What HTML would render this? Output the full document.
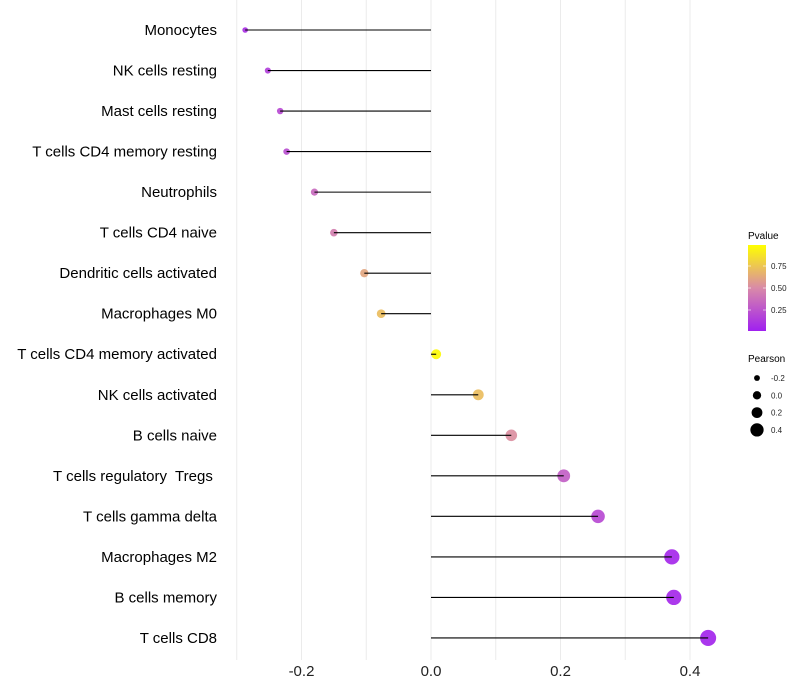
<!DOCTYPE html>
<html><head><meta charset="utf-8"><style>
body{margin:0;background:#fff;}
svg{display:block;font-family:"Liberation Sans",sans-serif;}
text{white-space:pre;}
</style></head><body>
<svg id="chart" width="800" height="700">
<defs>
<linearGradient id="pgrad" x1="0" y1="1" x2="0" y2="0">
<stop offset="0" stop-color="#A020F0"/>
<stop offset="0.5" stop-color="#D98AA8"/>
<stop offset="1" stop-color="#FFFF00"/>
</linearGradient>
</defs>
<g id="grid"></g>
<g id="marks"></g>
<g id="ylabels"></g>
<g id="xticks"></g>
<g>
<text x="748" y="239" font-size="10" fill="#000">Pvalue</text>
<rect x="748" y="245" width="18" height="86" fill="url(#pgrad)"/>
<line x1="748" y1="266" x2="751" y2="266" stroke="#fff" stroke-opacity="0.6"/><line x1="763" y1="266" x2="766" y2="266" stroke="#fff" stroke-opacity="0.6"/>
<line x1="748" y1="288" x2="751" y2="288" stroke="#fff" stroke-opacity="0.6"/><line x1="763" y1="288" x2="766" y2="288" stroke="#fff" stroke-opacity="0.6"/>
<line x1="748" y1="310" x2="751" y2="310" stroke="#fff" stroke-opacity="0.6"/><line x1="763" y1="310" x2="766" y2="310" stroke="#fff" stroke-opacity="0.6"/>
<text x="771" y="269" font-size="8" fill="#222">0.75</text>
<text x="771" y="291" font-size="8" fill="#222">0.50</text>
<text x="771" y="313" font-size="8" fill="#222">0.25</text>
</g>
<g id="sizelegend">
<text x="748" y="362" font-size="10" fill="#000">Pearson</text>
</g>
</svg>
<script>
const categories=["Monocytes","NK cells resting","Mast cells resting","T cells CD4 memory resting","Neutrophils","T cells CD4 naive","Dendritic cells activated","Macrophages M0","T cells CD4 memory activated","NK cells activated","B cells naive","T cells regulatory  Tregs ","T cells gamma delta","Macrophages M2","B cells memory","T cells CD8"];
const pearson=[-0.287,-0.252,-0.233,-0.223,-0.180,-0.150,-0.103,-0.077,0.008,0.073,0.124,0.205,0.258,0.372,0.375,0.428];
const pvalues=[0.08,0.15,0.2,0.22,0.35,0.45,0.62,0.72,0.98,0.72,0.52,0.3,0.2,0.04,0.04,0.03];
const xTicks=[-0.2,0,0.2,0.4];
const xTickLabels=["-0.2","0.0","0.2","0.4"];
const gridVals=[-0.3,-0.2,-0.1,0,0.1,0.2,0.3,0.4];
const sizeLegendVals=[-0.2,0.0,0.2,0.4];
const sizeLegendLabels=["-0.2","0.0","0.2","0.4"];

const NS="http://www.w3.org/2000/svg";
function xs(v){return 431+v*647.5;}
function ys(i){return 30+i*40.53;}
function rs(v){return Math.max(1.5,4.9+7.3*v);}
function hex(h){return [parseInt(h.slice(1,3),16),parseInt(h.slice(3,5),16),parseInt(h.slice(5,7),16)];}
const stops=[[0,hex("#A020F0")],[0.5,hex("#D98AA8")],[1,hex("#FFFF00")]];
function col(p){let a=stops[0],b=stops[1];if(p>0.5){a=stops[1];b=stops[2];}
 const t=(p-a[0])/(b[0]-a[0]);const c=a[1].map((x,k)=>Math.round(x+(b[1][k]-x)*t));return `rgb(${c.join(",")})`;}
function mk(tag,attrs,parent){const e=document.createElementNS(NS,tag);for(const k in attrs)e.setAttribute(k,attrs[k]);parent.appendChild(e);return e;}

const grid=document.getElementById('grid');
gridVals.forEach(v=>{const l=mk('line',{x1:xs(v),x2:xs(v),y1:0,y2:660,stroke:'#ebebeb','stroke-width':1},grid);

});

const marks=document.getElementById('marks');
const ylab=document.getElementById('ylabels');
categories.forEach((c,i)=>{
 const y=ys(i),v=pearson[i];
 const pt=mk('circle',{cx:xs(v),cy:y,r:rs(v),fill:col(pvalues[i]),'fill-opacity':0.92},marks);
 
 
 const ln=mk('line',{x1:xs(0),x2:xs(v),y1:y,y2:y,stroke:'#000','stroke-width':1.1},marks);
 
 
 const t=mk('text',{x:217,y:y+5,'text-anchor':'end','font-size':15,fill:'#000'},ylab);
 t.textContent=c;
 
 
});
const xt=document.getElementById('xticks');
xTicks.forEach((v,i)=>{const t=mk('text',{x:xs(v),y:676,'text-anchor':'middle','font-size':15,fill:'#222'},xt);
 t.textContent=xTickLabels[i];
 
 });
const sl=document.getElementById('sizelegend');
sizeLegendVals.forEach((v,i)=>{const y=378+i*17.3;
 const c=mk('circle',{cx:757,cy:y,r:rs(v)*0.85,fill:'#000'},sl);
 
 
 const t=mk('text',{x:771,y:y+3,'font-size':8,fill:'#222'},sl);
 t.textContent=sizeLegendLabels[i];
 
 });
</script>
</body></html>
